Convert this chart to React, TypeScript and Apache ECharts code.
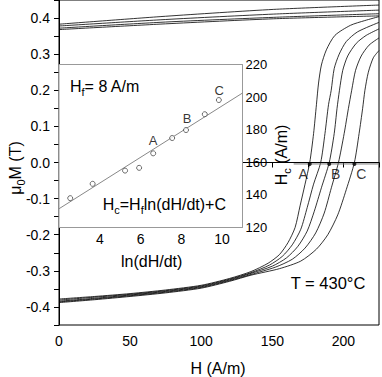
import React, { useEffect, useRef } from "react";
import * as echarts from "echarts";

// ---- main plot data: ascending branches (H in A/m, mu0M in T) ----
const branchA: number[][] = [[0,-0.378],[25,-0.371],[50,-0.363],[75,-0.353],[100,-0.34],[120,-0.321],[135,-0.302],[147,-0.279],[155,-0.255],[161,-0.222],[166,-0.18],[169.5,-0.12],[173,-0.06],[176.3,0],[179,0.08],[181,0.16],[182.5,0.22],[184.5,0.27],[188,0.312],[194,0.352],[205,0.38],[215,0.393],[225,0.404]];
const branch2: number[][] = [[0,-0.381],[25,-0.373],[50,-0.365],[75,-0.355],[100,-0.342],[120,-0.323],[135,-0.305],[148,-0.284],[157,-0.26],[164,-0.228],[170,-0.185],[174.5,-0.125],[179,-0.06],[184,0],[187,0.08],[189.5,0.16],[191.4,0.2],[193.5,0.26],[197,0.3],[202,0.335],[210,0.362],[225,0.388]];
const branchB: number[][] = [[0,-0.384],[25,-0.376],[50,-0.367],[75,-0.357],[100,-0.344],[120,-0.325],[135,-0.307],[150,-0.287],[160,-0.264],[168,-0.232],[174.5,-0.19],[179.5,-0.135],[184.5,-0.07],[190,0],[193.5,0.08],[195.5,0.15],[197.2,0.2],[199.5,0.255],[203,0.295],[209,0.33],[216,0.352],[225,0.37]];
const branch4: number[][] = [[0,-0.386],[25,-0.378],[50,-0.369],[75,-0.359],[100,-0.346],[120,-0.327],[135,-0.31],[152,-0.29],[164,-0.268],[173,-0.237],[180.5,-0.195],[186.5,-0.14],[191.5,-0.07],[196.5,0],[200.5,0.08],[203.5,0.15],[205.8,0.2],[208.5,0.255],[212.5,0.295],[218,0.325],[225,0.345]];
const branchC: number[][] = [[0,-0.388],[25,-0.38],[50,-0.371],[75,-0.361],[100,-0.348],[120,-0.329],[135,-0.312],[155,-0.294],[170,-0.273],[181,-0.24],[189,-0.2],[196,-0.145],[202,-0.075],[207.7,0],[211,0.08],[213.5,0.15],[215.1,0.2],[217.5,0.25],[221,0.29],[225,0.31]];

// upper branches
const upper1: number[][] = [[0,0.383],[75,0.405],[151,0.424],[225,0.436]];
const upper2: number[][] = [[0,0.378],[75,0.396],[151,0.411],[225,0.422]];
const upper3: number[][] = [[0,0.372],[75,0.389],[151,0.402],[225,0.412]];
const upper4: number[][] = [[0,0.368],[75,0.384],[151,0.398],[225,0.406]];

// coercive field marker line and points
const hcLine: number[][] = [[165,-0.004],[225,-0.004]];
const hcPoints: number[][] = [[176.3,-0.004],[190,-0.004],[207.7,-0.004]];
const hcPointNames = ["A", "B", "C"];
const hcLabelPos: number[][] = [[171.7,-0.031],[194.5,-0.031],[212.5,-0.031]];

// ---- inset data ----
const lnRate = [2.55, 3.65, 5.24, 5.93, 6.62, 7.55, 8.23, 9.15, 9.84];
const hcValues = [138.0, 146.8, 154.9, 156.6, 165.5, 174.9, 179.8, 189.5, 198.2];
const fitLine: number[][] = [[2, 131.5], [11, 202.5]];
const insetLabelNames = ["A", "B", "C"];
const insetLabelPos: number[][] = [[6.61,173.2],[8.28,187],[9.86,204.1]];

const FONT = '"Liberation Sans", Arial, Helvetica, sans-serif';

export default function App() {
  const ref = useRef<HTMLDivElement>(null);
  useEffect(() => {
    if (!ref.current) return;
    const chart = echarts.init(ref.current, null, { renderer: "svg" });
    const lineStyle = { color: "#000", width: 0.8 };
    const curve = (d: number[][]) => ({
      type: "line", xAxisIndex: 0, yAxisIndex: 0, data: d, showSymbol: false,
      smooth: 0.25, lineStyle, silent: true, z: 3,
    });
    const rich = (fs: number) => ({
      m: { fontSize: fs, lineHeight: fs + 6, fontFamily: FONT, fill: "#000", color: "#000" },
      s: { fontSize: Math.round(fs * 0.68), lineHeight: Math.round(fs * 0.68), verticalAlign: "bottom", fontFamily: FONT, fill: "#000", color: "#000" },
    });
    const txt = (x: number, y: number, text: string, fs: number, align: string, rotation = 0) => ({
      type: "text", x, y, rotation, z: 10,
      style: {
        text, rich: rich(fs), fontSize: fs, fontFamily: FONT, fill: "#000",
        align, textAlign: align, verticalAlign: "middle", textVerticalAlign: "middle",
      },
    });
    const option: any = {
      animation: false,
      grid: [
        { left: 59, right: 1.5, top: 0, bottom: 52, show: true, borderColor: "#000", borderWidth: 1, containLabel: false },
        { left: 59, right: 139.5, top: 64.5, bottom: 149.5, show: true, borderColor: "#999", borderWidth: 1, backgroundColor: "#fff", z: 1 },
      ],
      xAxis: [
        {
          type: "value", gridIndex: 0, min: 0, max: 225, interval: 25,
          axisLine: { lineStyle: { color: "#000", width: 1 } },
          axisTick: { inside: false, length: 5, lineStyle: { color: "#000" } },
          axisLabel: {
            color: "#000", fontSize: 14, fontFamily: FONT, margin: 9,
            formatter: (v: number) => (Math.round(v) % 50 === 0 ? String(Math.round(v)) : ""),
          },
          splitLine: { show: false },
        },
        {
          type: "value", gridIndex: 1, min: 2, max: 11, interval: 1,
          axisLine: { lineStyle: { color: "#999", width: 1 } },
          axisTick: { inside: true, length: 3, lineStyle: { color: "#999" } },
          axisLabel: {
            color: "#000", fontSize: 14, fontFamily: FONT, margin: 4,
            formatter: (v: number) => {
              const r = Math.round(v);
              return r % 2 === 0 && r >= 4 && r <= 10 ? String(r) : "";
            },
          },
          splitLine: { show: false },
        },
      ],
      yAxis: [
        {
          type: "value", gridIndex: 0, min: -0.45, max: 0.45, interval: 0.05,
          axisLine: { lineStyle: { color: "#000", width: 1 } },
          axisTick: { inside: false, length: 5, lineStyle: { color: "#000" } },
          axisLabel: {
            color: "#000", fontSize: 14, fontFamily: FONT, margin: 9,
            formatter: (v: number) => {
              const r = Math.round(v * 100);
              return Math.abs(r) % 10 === 0 && Math.abs(r) <= 40 ? (r / 100).toFixed(1) : "";
            },
          },
          splitLine: { show: false },
        },
        {
          type: "value", gridIndex: 1, position: "right", min: 120, max: 220, interval: 10,
          axisLine: { show: true, lineStyle: { color: "#999", width: 1 } },
          axisTick: { inside: true, length: 3, lineStyle: { color: "#999" } },
          axisLabel: {
            color: "#000", fontSize: 13, fontFamily: FONT, margin: 3,
            formatter: (v: number) => (Math.round(v) % 20 === 0 ? String(Math.round(v)) : ""),
          },
          splitLine: { show: false },
        },
      ],
      series: [
        curve(upper1), curve(upper2), curve(upper3), curve(upper4),
        curve(branchA), curve(branch2), curve(branchB), curve(branch4), curve(branchC),
        {
          type: "line", xAxisIndex: 0, yAxisIndex: 0, data: hcLine, showSymbol: false,
          lineStyle: { color: "#777", width: 1 }, z: 4,
        },
        {
          type: "scatter", xAxisIndex: 0, yAxisIndex: 0, data: hcPoints, symbol: "circle",
          symbolSize: 4, itemStyle: { color: "#000" }, z: 5,
        },
        {
          type: "scatter", xAxisIndex: 0, yAxisIndex: 0, symbolSize: 0,
          data: hcLabelPos.map((p, i) => ({ value: p, name: hcPointNames[i] })),
          label: { show: true, position: "inside", formatter: "{b}", color: "#000", fontSize: 14, fontFamily: FONT },
          z: 6,
        },
        {
          type: "line", xAxisIndex: 1, yAxisIndex: 1, data: fitLine, showSymbol: false,
          lineStyle: { color: "#888", width: 1 }, z: 4,
        },
        {
          type: "scatter", xAxisIndex: 1, yAxisIndex: 1,
          data: lnRate.map((x, i) => [x, hcValues[i]]),
          symbol: "circle", symbolSize: 5,
          itemStyle: { color: "#fff", borderColor: "#333", borderWidth: 0.9 }, z: 5,
        },
        {
          type: "scatter", xAxisIndex: 1, yAxisIndex: 1, symbolSize: 0,
          data: insetLabelPos.map((p, i) => ({ value: p, name: insetLabelNames[i] })),
          label: { show: true, position: "inside", formatter: "{b}", color: "#000", fontSize: 13, fontFamily: FONT },
          z: 6,
        },
      ],
      graphic: [
        txt(15, 168, "{m|μ}{s|0}{m|M (T)}", 16, "center", Math.PI / 2),
        txt(281.5, 155, "{m|H}{s|c}{m| (A/m)}", 16, "center", Math.PI / 2),
        txt(70, 86.7, "{m|H}{s|f}{m|= 8 A/m}", 16, "left"),
        txt(102.7, 204, "{m|H}{s|c}{m|=H}{s|f}{m|ln(dH/dt)+C}", 16, "left"),
        txt(151.7, 261.7, "{m|ln(dH/dt)}", 16, "center"),
        txt(328, 282.7, "{m|T = 430°C}", 16.5, "center"),
        txt(218, 368.3, "{m|H (A/m)}", 16, "center"),
      ],
    };
    chart.setOption(option);
    return () => chart.dispose();
  }, []);
  return <div ref={ref} style={{ position: "absolute", left: 0, top: 0, width: 382, height: 377 }} />;
}
